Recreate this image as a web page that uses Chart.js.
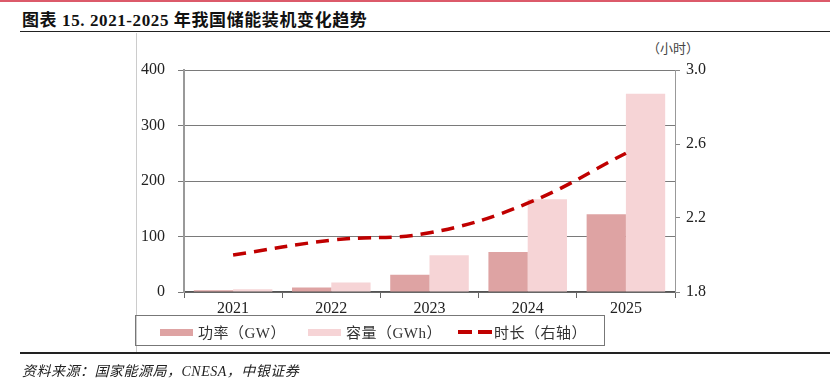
<!DOCTYPE html>
<html>
<head>
  <meta charset="utf-8" />
  <script src="https://cdn.jsdelivr.net/npm/chart.js@4"></script>
  <style>
    body { margin: 0; background: #fff; }
    #wrap { position: relative; width: 830px; height: 386px; overflow: hidden; }
    #topbar { position: absolute; left: 0; top: 0; width: 830px; height: 2px; background: #dc5a6a; }
    #title { position: absolute; left: 22px; top: 6px; font: bold 17px "Liberation Serif", "Noto Sans CJK SC"; color: #111; letter-spacing: 0.6px; }
    #rule1 { position: absolute; left: 20px; top: 31px; width: 810px; height: 1px; background: #222; }
    #vline { position: absolute; left: 136px; top: 33px; width: 1px; height: 320px; background: #ccc; }
    #rule2 { position: absolute; left: 20px; top: 352px; width: 810px; height: 2px; background: #222; }
    #source { position: absolute; left: 22px; top: 360px; font: italic 14px "Liberation Serif", "Noto Sans CJK SC"; color: #222; letter-spacing: 0.5px; }
    #unit { position: absolute; left: 647px; top: 38px; font: 13px "Noto Sans CJK SC"; color: #444; }
    #legend { position: absolute; left: 135px; top: 315px; width: 470px; height: 31px; border: 1px solid #777; box-sizing: border-box;
      font: 15px "Liberation Serif", "Noto Sans CJK SC"; color: #333; letter-spacing: 0.5px; }
    .item { position: absolute; top: 5px; white-space: nowrap; }
    .sw { position: absolute; top: 13px; height: 7px; }
    #c { position: absolute; left: 0; top: 0; }
  </style>
</head>
<body>
<div id="wrap">
  <div id="topbar"></div>
  <div id="title">图表 15. 2021-2025 年我国储能装机变化趋势</div>
  <div id="rule1"></div>
  <div id="vline"></div>
  <div id="unit">（小时）</div>
  <canvas id="c" width="830" height="386"></canvas>
  <div id="legend">
    <div class="sw" style="left:24px;width:33px;background:#dea3a3"></div>
    <div class="item" style="left:62px">功率（GW）</div>
    <div class="sw" style="left:172px;width:33px;background:#f6d4d6"></div>
    <div class="item" style="left:210px">容量（GWh）</div>
    <div class="sw" style="left:322px;top:14px;width:14px;height:4px;background:#c00000"></div>
    <div class="sw" style="left:342px;top:14px;width:14px;height:4px;background:#c00000"></div>
    <div class="item" style="left:358px">时长（右轴）</div>
  </div>
  <div id="rule2"></div>
  <div id="source">资料来源：国家能源局，CNESA，中银证券</div>
</div>
<script>
  // data
  var years = ['2021', '2022', '2023', '2024', '2025'];
  var power = [3, 8, 31, 72, 140];         // GW
  var capacity = [5, 17, 66, 167, 357];    // GWh
  var hours = [2.0, 2.08, 2.12, 2.28, 2.55];

  var tickFont = { family: 'Liberation Serif', size: 16 };

  new Chart(document.getElementById('c'), {
    type: 'bar',
    data: {
      labels: years,
      datasets: [
        {
          type: 'line',
          label: '时长（右轴）',
          data: hours,
          yAxisID: 'y2',
          borderColor: '#c00000',
          borderWidth: 3.5,
          borderDash: [13, 8],
          pointRadius: 0,
          tension: 0.4,
          fill: false
        },
        {
          label: '功率（GW）',
          data: power,
          yAxisID: 'y',
          backgroundColor: '#dea3a3',
          categoryPercentage: 0.8,
          barPercentage: 1.0
        },
        {
          label: '容量（GWh）',
          data: capacity,
          yAxisID: 'y',
          backgroundColor: '#f6d4d6',
          categoryPercentage: 0.8,
          barPercentage: 1.0
        }
      ]
    },
    options: {
      responsive: false,
      animation: false,
      layout: { padding: { left: 134, right: 95, top: 70, bottom: 70 } },
      plugins: { legend: { display: false }, tooltip: { enabled: false } },
      scales: {
        x: {
          grid: { offset: true, drawOnChartArea: false, tickLength: 6, color: '#666' },
          border: { color: '#555', width: 1.5 },
          ticks: { font: tickFont, color: '#222', padding: 1 },
          afterFit: function (s) { s.height = 24; }
        },
        y: {
          position: 'left',
          min: 0, max: 400,
          ticks: { stepSize: 100, font: tickFont, color: '#222', padding: 13 },
          grid: { color: '#7a7a7a', tickLength: 6 },
          border: { color: '#999', width: 2 },
          afterFit: function (s) { s.width = 50; }
        },
        y2: {
          position: 'right',
          min: 1.8, max: 3.0,
          ticks: { stepSize: 0.4, font: tickFont, color: '#222', padding: 6,
            callback: function (v) { return v.toFixed(1); } },
          grid: { drawOnChartArea: false, tickLength: 5, color: '#888' },
          border: { color: '#999', width: 1 },
          afterFit: function (s) { s.width = 60; }
        }
      }
    }
  });
</script>
</body>
</html>
